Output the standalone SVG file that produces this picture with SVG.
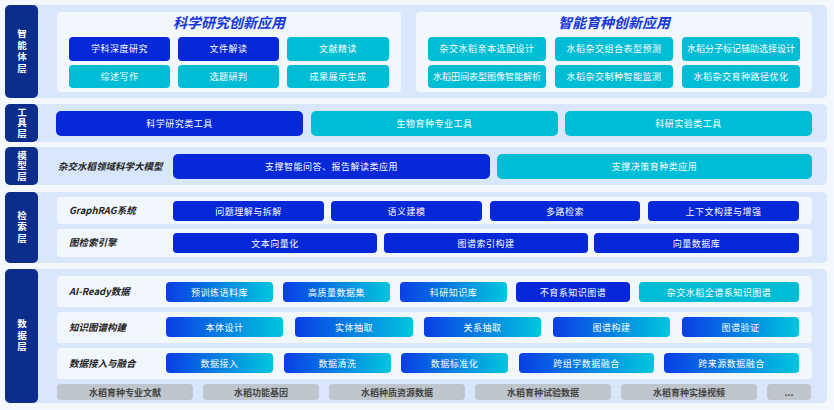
<svg xmlns="http://www.w3.org/2000/svg" width="834" height="410" viewBox="0 0 834 410">
<defs>
<linearGradient id="g" x1="0" y1="0" x2="1" y2="0"><stop offset="0" stop-color="#0a3ee6"/><stop offset="1" stop-color="#00c6de"/></linearGradient>
<style>
.lay{fill:#d8e7fb}
.lab{fill:#0b2d8c}
.card{fill:#f2f7fe}
.b{fill:#0628d8}
.c{fill:#00bdd6}
.gr{fill:url(#g)}
.gy{fill:#bfc5cc}
text{font-family:"Noto Sans CJK SC","Noto Sans",sans-serif}
.lt{fill:#fff;font-size:9.5px;font-weight:bold;text-anchor:middle;writing-mode:vertical-rl;letter-spacing:2px}
.t{fill:#fff;font-size:9px;text-anchor:middle;letter-spacing:0.5px}
.gt{fill:#444;font-size:9px;font-weight:bold;text-anchor:middle}
.rt{fill:#222;font-size:9.5px;font-weight:bold;font-style:italic}
.tt{fill:#1536d8;font-size:14px;font-weight:bold;font-style:italic;text-anchor:middle}
</style>
</defs>
<rect width="834" height="410" fill="#f4f8fe"/>
<g id="agent">
<rect class="lay" x="5" y="5" width="822" height="93" rx="5"/>
<rect class="lab" x="5" y="5" width="33" height="93" rx="5"/>
<text class="lt" x="22" y="52">智能体层</text>
<rect class="card" x="57" y="12" width="344" height="80" rx="4"/>
<text class="tt" x="229" y="28">科学研究创新应用</text>
<rect class="b" x="69" y="37" width="101" height="24" rx="4"/><text class="t" x="119.5" y="52">学科深度研究</text>
<rect class="b" x="178" y="37" width="101" height="24" rx="4"/><text class="t" x="228.5" y="52">文件解读</text>
<rect class="c" x="287" y="37" width="102" height="24" rx="4"/><text class="t" x="338" y="52">文献精读</text>
<rect class="c" x="69" y="65" width="101" height="23" rx="4"/><text class="t" x="119.5" y="80">综述写作</text>
<rect class="c" x="178" y="65" width="101" height="23" rx="4"/><text class="t" x="228.5" y="80">选题研判</text>
<rect class="c" x="287" y="65" width="102" height="23" rx="4"/><text class="t" x="338" y="80">成果展示生成</text>
<rect class="card" x="416" y="12" width="396" height="80" rx="4"/>
<text class="tt" x="614" y="28">智能育种创新应用</text>
<rect class="c" x="428" y="37" width="118" height="24" rx="4"/><text class="t" x="487" y="52">杂交水稻亲本选配设计</text>
<rect class="c" x="555" y="37" width="118" height="24" rx="4"/><text class="t" x="614" y="52">水稻杂交组合表型预测</text>
<rect class="c" x="682" y="37" width="118" height="24" rx="4"/><text class="t" x="741" y="52" style="letter-spacing:0">水稻分子标记辅助选择设计</text>
<rect class="c" x="428" y="65" width="118" height="23" rx="4"/><text class="t" x="487" y="80" style="letter-spacing:0">水稻田间表型图像智能解析</text>
<rect class="c" x="555" y="65" width="118" height="23" rx="4"/><text class="t" x="614" y="80">水稻杂交制种智能监测</text>
<rect class="c" x="682" y="65" width="118" height="23" rx="4"/><text class="t" x="741" y="80">水稻杂交育种路径优化</text>
</g>
<g id="tool">
<rect class="lay" x="5" y="104" width="822" height="38" rx="5"/>
<rect class="lab" x="5" y="104" width="33" height="38" rx="5"/>
<text class="lt" x="22" y="123" style="letter-spacing:1px">工具层</text>
<rect class="b" x="56" y="111" width="247" height="25" rx="5"/><text class="t" x="179.5" y="127">科学研究类工具</text>
<rect class="c" x="311" y="111" width="247" height="25" rx="5"/><text class="t" x="434.5" y="127">生物育种专业工具</text>
<rect class="c" x="565" y="111" width="247" height="25" rx="5"/><text class="t" x="688.5" y="127">科研实验类工具</text>
</g>
<g id="model">
<rect class="lay" x="5" y="147" width="822" height="38" rx="5"/>
<rect class="lab" x="5" y="147" width="33" height="38" rx="5"/>
<text class="lt" x="22" y="166" style="letter-spacing:1px">模型层</text>
<text class="rt" x="58" y="170">杂交水稻领域科学大模型</text>
<rect class="b" x="173" y="154" width="317" height="25" rx="5"/><text class="t" x="331.5" y="170">支撑智能问答、报告解读类应用</text>
<rect class="c" x="497" y="154" width="315" height="25" rx="5"/><text class="t" x="654.5" y="170">支撑决策育种类应用</text>
</g>
<g id="retrieval">
<rect class="lay" x="5" y="192" width="822" height="71" rx="5"/>
<rect class="lab" x="5" y="192" width="33" height="71" rx="5"/>
<text class="lt" x="22" y="227.5">检索层</text>
<rect class="card" x="57" y="197" width="755" height="27" rx="4"/>
<rect class="card" x="57" y="229" width="755" height="28" rx="4"/>
<text class="rt" x="69" y="214">GraphRAG系统</text>
<text class="rt" x="69" y="246">图检索引擎</text>
<rect class="b" x="173" y="201" width="151" height="20" rx="4"/><text class="t" x="248.5" y="214.5">问题理解与拆解</text>
<rect class="b" x="331" y="201" width="151" height="20" rx="4"/><text class="t" x="406.5" y="214.5">语义建模</text>
<rect class="b" x="490" y="201" width="150" height="20" rx="4"/><text class="t" x="565" y="214.5">多路检索</text>
<rect class="b" x="648" y="201" width="151" height="20" rx="4"/><text class="t" x="723.5" y="214.5">上下文构建与增强</text>
<rect class="b" x="173" y="233" width="204" height="20" rx="4"/><text class="t" x="275" y="246.5">文本向量化</text>
<rect class="b" x="384" y="233" width="204" height="20" rx="4"/><text class="t" x="486" y="246.5">图谱索引构建</text>
<rect class="b" x="594" y="233" width="205" height="20" rx="4"/><text class="t" x="696.5" y="246.5">向量数据库</text>
</g>
<g id="data">
<rect class="lay" x="5" y="269" width="822" height="134" rx="5"/>
<rect class="lab" x="5" y="269" width="33" height="134" rx="5"/>
<text class="lt" x="22" y="336">数据层</text>
<rect class="card" x="57" y="276" width="755" height="31" rx="4"/>
<rect class="card" x="57" y="312" width="755" height="31" rx="4"/>
<rect class="card" x="57" y="348" width="755" height="31" rx="4"/>
<text class="rt" x="69" y="295">AI-Ready数据</text>
<text class="rt" x="69" y="331">知识图谱构建</text>
<text class="rt" x="69" y="367">数据接入与融合</text>
<rect class="gr" x="166" y="282" width="107" height="20" rx="4"/><text class="t" x="219.5" y="295.5">预训练语料库</text>
<rect class="gr" x="283" y="282" width="107" height="20" rx="4"/><text class="t" x="336.5" y="295.5">高质量数据集</text>
<rect class="gr" x="400" y="282" width="107" height="20" rx="4"/><text class="t" x="453.5" y="295.5">科研知识库</text>
<rect class="b" x="516" y="282" width="114" height="20" rx="4"/><text class="t" x="573" y="295.5">不育系知识图谱</text>
<rect class="c" x="639" y="282" width="160" height="20" rx="4"/><text class="t" x="719" y="295.5">杂交水稻全谱系知识图谱</text>
<rect class="gr" x="166" y="317" width="117" height="20" rx="4"/><text class="t" x="224.5" y="330.5">本体设计</text>
<rect class="gr" x="295" y="317" width="118" height="20" rx="4"/><text class="t" x="354" y="330.5">实体抽取</text>
<rect class="gr" x="424" y="317" width="117" height="20" rx="4"/><text class="t" x="482.5" y="330.5">关系抽取</text>
<rect class="gr" x="553" y="317" width="117" height="20" rx="4"/><text class="t" x="611.5" y="330.5">图谱构建</text>
<rect class="gr" x="682" y="317" width="117" height="20" rx="4"/><text class="t" x="740.5" y="330.5">图谱验证</text>
<rect class="gr" x="166" y="353" width="107" height="20" rx="4"/><text class="t" x="219.5" y="366.5">数据接入</text>
<rect class="gr" x="284" y="353" width="107" height="20" rx="4"/><text class="t" x="337.5" y="366.5">数据清洗</text>
<rect class="gr" x="401" y="353" width="107" height="20" rx="4"/><text class="t" x="454.5" y="366.5">数据标准化</text>
<rect class="gr" x="519" y="353" width="135" height="20" rx="4"/><text class="t" x="586.5" y="366.5">跨组学数据融合</text>
<rect class="gr" x="664" y="353" width="135" height="20" rx="4"/><text class="t" x="731.5" y="366.5">跨来源数据融合</text>
<rect class="gy" x="57" y="384" width="136" height="16" rx="4"/><text class="gt" x="125" y="395.5">水稻育种专业文献</text>
<rect class="gy" x="203" y="384" width="116" height="16" rx="4"/><text class="gt" x="261" y="395.5">水稻功能基因</text>
<rect class="gy" x="329" y="384" width="136" height="16" rx="4"/><text class="gt" x="397" y="395.5">水稻种质资源数据</text>
<rect class="gy" x="475" y="384" width="136" height="16" rx="4"/><text class="gt" x="543" y="395.5">水稻育种试验数据</text>
<rect class="gy" x="621" y="384" width="136" height="16" rx="4"/><text class="gt" x="689" y="395.5">水稻育种实操视频</text>
<rect class="gy" x="767" y="384" width="44" height="16" rx="4"/><text class="gt" x="789" y="395.5">...</text>
</g>
<g id="connectors"/>
</svg>
